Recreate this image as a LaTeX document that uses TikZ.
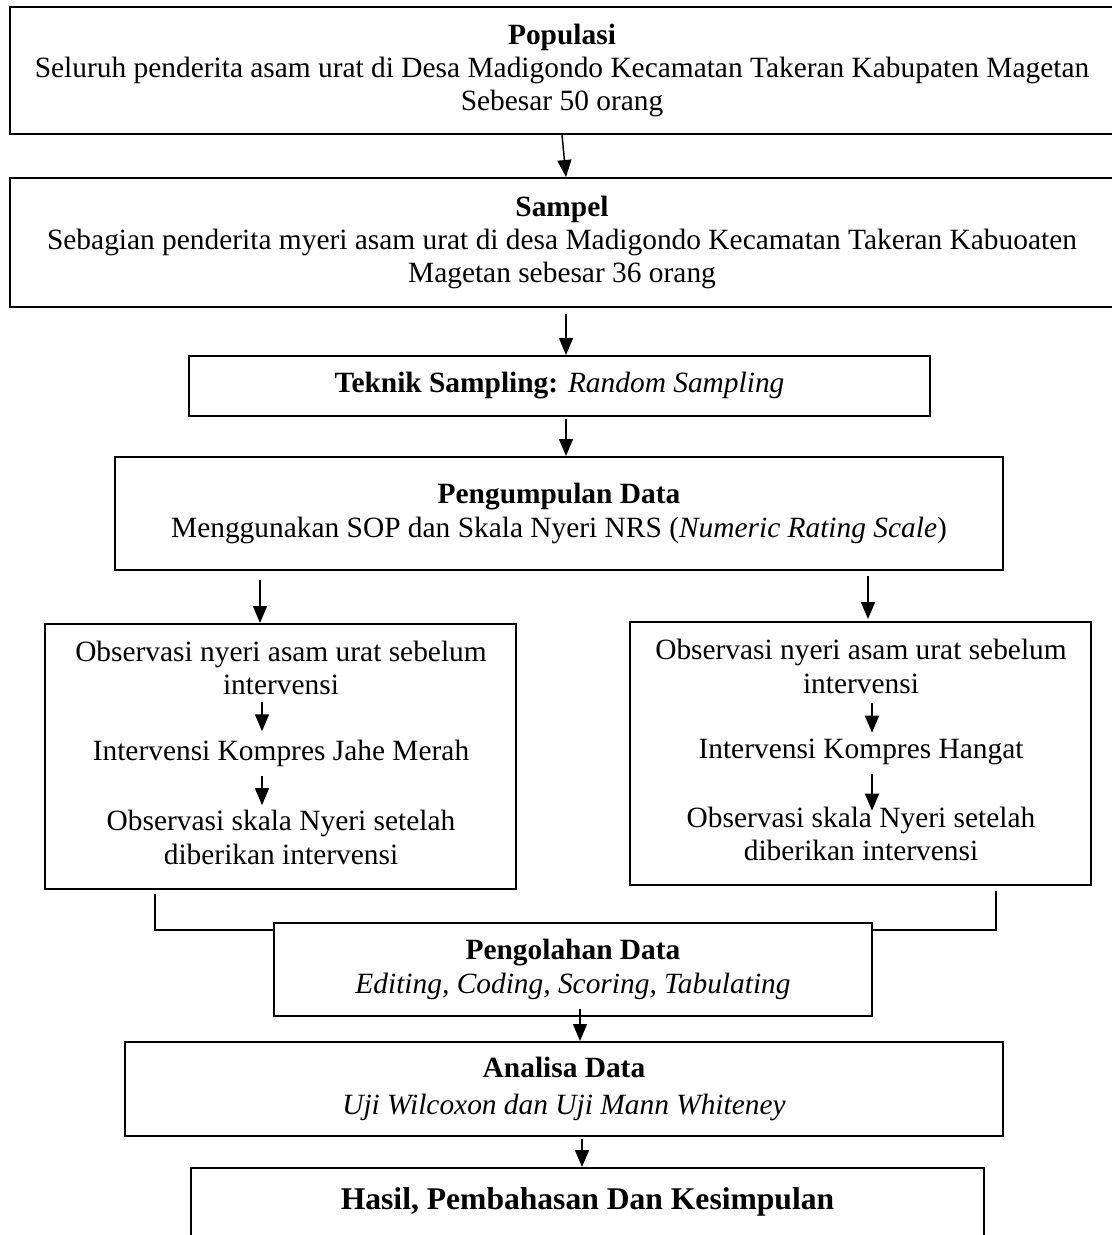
\documentclass[tikz,border=0pt]{standalone}
\usepackage{fontspec}
\setmainfont{Liberation Serif}
\usetikzlibrary{arrows.meta,calc}
\newcommand\bodyfont{\fontsize{14.7}{16.6}\selectfont}
\newcommand\bigfont{\fontsize{15.8}{18}\selectfont}
\begin{document}
\begin{tikzpicture}[x=0.5pt,y=-0.5pt,
  box/.style={draw, line width=1pt, align=center, inner sep=0pt, font=\bodyfont},
  txt/.style={align=center, inner sep=1pt, font=\bodyfont},
  arr/.style={-{Triangle[length=8.5pt,width=7pt]}, line width=0.75pt},
  link/.style={line width=1pt}]
\useasboundingbox (0,0) rectangle (1112,1235);

% main chain of boxes
\node[box, minimum width=552pt, minimum height=63.5pt] (pop) at (562,70.5)
  {\textbf{Populasi}\\Seluruh penderita asam urat di Desa Madigondo Kecamatan Takeran Kabupaten Magetan\\Sebesar 50 orang};
\node[box, minimum width=552pt, minimum height=64.5pt] (samp) at (562,242.5)
  {\textbf{Sampel}\\Sebagian penderita myeri asam urat di desa Madigondo Kecamatan Takeran Kabuoaten\\Magetan sebesar 36 orang};
\node[box, minimum width=370.5pt, minimum height=30pt] (tek) at (559.5,386)
  {\textbf{Teknik Sampling:} \textit{Random Sampling}};
\node[box, minimum width=444pt, minimum height=56.5pt] (kump) at (559,513.5)
  {\textbf{Pengumpulan Data}\\Menggunakan SOP dan Skala Nyeri NRS (\textit{Numeric Rating Scale})};

% two treatment groups
\node[box, minimum width=235.5pt, minimum height=132.5pt] (L) at (280.5,756.5) {};
\node[box, minimum width=230.5pt, minimum height=131.5pt] (R) at (860.5,753.5) {};
\node[txt] (l1) at (281,668) {Observasi nyeri asam urat sebelum\\intervensi};
\node[txt] (l2) at (281,753) {Intervensi Kompres Jahe Merah};
\node[txt] (l3) at (281,837.5) {Observasi skala Nyeri setelah\\diberikan intervensi};
\node[txt] (r1) at (861,666.5) {Observasi nyeri asam urat sebelum\\intervensi};
\node[txt] (r2) at (861,752) {Intervensi Kompres Hangat};
\node[txt] (r3) at (861,834) {Observasi skala Nyeri setelah\\diberikan intervensi};

\node[box, minimum width=299pt, minimum height=46.5pt] (proc) at (573,969.5)
  {\textbf{Pengolahan Data}\\\textit{Editing, Coding, Scoring, Tabulating}};
\node[box, minimum width=439pt, minimum height=47pt] (anal) at (564,1089)
  {\textbf{Analisa Data}\\[2pt]\textit{Uji Wilcoxon dan Uji Mann Whiteney}};
\node[box, font=\bigfont, minimum width=396.5pt, text height=20.5pt, text depth=20pt,
  anchor=north] (hasil) at (587.5,1167) {\textbf{Hasil, Pembahasan Dan Kesimpulan}};

% x positions of the connectors
\coordinate (xa) at (562,0);
\coordinate (xb) at (566,0);
\coordinate (xk1) at (260,0);
\coordinate (xk2) at (868,0);
\coordinate (xl) at (262,0);
\coordinate (xr) at (872,0);
\coordinate (xp) at (580,0);
\coordinate (xq) at (582,0);
\coordinate (bl) at (155,0);
\coordinate (br) at (996,0);

% connectors
\draw[arr] (pop.south -| xa) -- (samp.north -| xb);
\draw[arr] ($(samp.south -| xb)+(0,6)$) -- (tek.north -| xb);
\draw[arr] ($(tek.south -| xb)+(0,2)$) -- (kump.north -| xb);
\draw[arr] ($(kump.south -| xk1)+(0,9)$) -- (L.north -| xk1);
\draw[arr] ($(kump.south -| xk2)+(0,5)$) -- ($(R.north -| xk2)+(0,-2)$);

\draw[arr] ($(l1.south -| xl)+(0,5)$) -- ($(l2.north -| xl)+(0,-6)$);
\draw[arr] ($(l2.south -| xl)+(0,7)$) -- ($(l3.north -| xl)+(0,-3)$);
\draw[arr] ($(r1.south -| xr)+(0,7)$) -- ($(r2.north -| xr)+(0,-4)$);
\draw[arr] ($(r2.south -| xr)+(0,7)$) -- ($(r3.north -| xr)+(0,6)$);

\draw[link] ($(L.south -| bl)+(0,4)$) |- ($(proc.north west)+(0,8)$);
\draw[link] ($(R.south -| br)+(0,5)$) |- ($(proc.north east)+(0,8)$);

\draw[arr] ($(proc.south -| xp)+(0,-8)$) -- (anal.north -| xp);
\draw[arr] ($(anal.south -| xq)+(0,2)$) -- (hasil.north -| xq);
\end{tikzpicture}
\end{document}
